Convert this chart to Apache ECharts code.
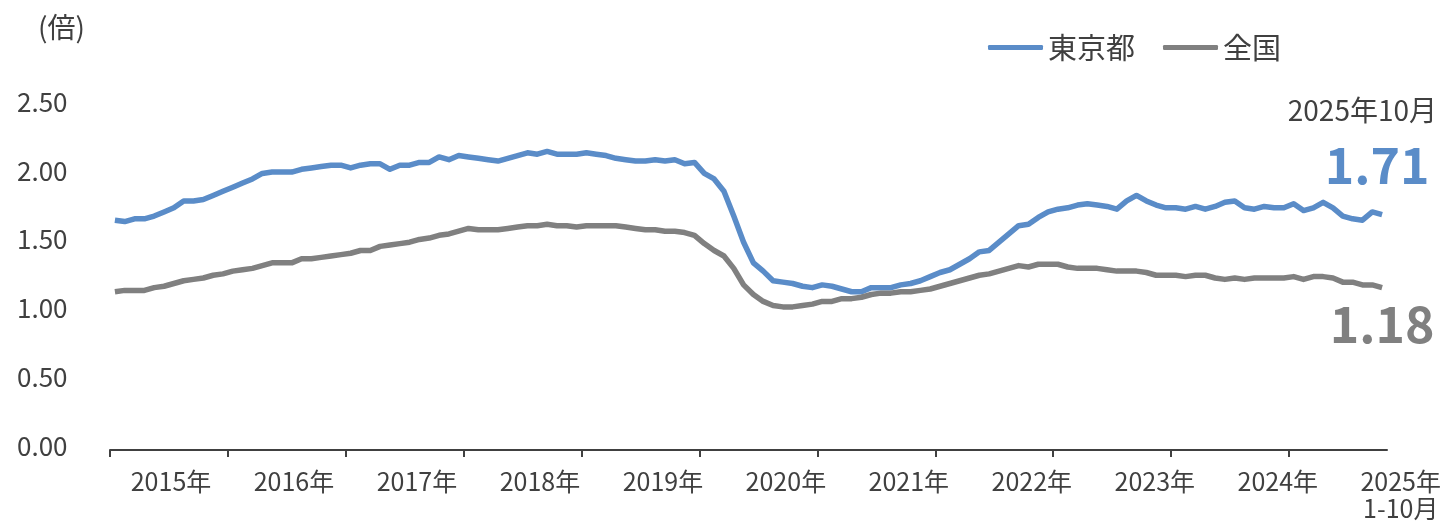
<!DOCTYPE html>
<html><head><meta charset="utf-8">
<script src="https://cdn.jsdelivr.net/npm/echarts@6/dist/echarts.min.js"></script>
<style>html,body{margin:0;padding:0;background:#fff}#c{width:1444px;height:522px}</style>
</head><body><div id="c"></div>
<script>
// Monthly categories Jan 2015 – Oct 2025
const years = [2015,2016,2017,2018,2019,2020,2021,2022,2023,2024,2025];
const months = [];
years.forEach(y => { const n = y === 2025 ? 10 : 12; for (let m = 1; m <= n; m++) months.push(y + '-' + m); });

const yearLabels = ['2015年','2016年','2017年','2018年','2019年','2020年','2021年','2022年','2023年','2024年','2025年\n1-10月'];
const fullYears = ['2015','2016','2017','2018','2019','2020','2021','2022','2023','2024'];
const yTicks = [0, 0.5, 1.0, 1.5, 2.0, 2.5];

const tokyo = [
1.67,1.66,1.68,1.68,1.70,1.73,1.76,1.81,1.81,1.82,1.85,1.88,
1.91,1.94,1.97,2.01,2.02,2.02,2.02,2.04,2.05,2.06,2.07,2.07,
2.05,2.07,2.08,2.08,2.04,2.07,2.07,2.09,2.09,2.13,2.11,2.14,
2.13,2.12,2.11,2.10,2.12,2.14,2.16,2.15,2.17,2.15,2.15,2.15,
2.16,2.15,2.14,2.12,2.11,2.10,2.10,2.11,2.10,2.11,2.08,2.09,
2.01,1.97,1.88,1.70,1.51,1.36,1.30,1.23,1.22,1.21,1.19,1.18,
1.20,1.19,1.17,1.15,1.15,1.18,1.18,1.18,1.20,1.21,1.23,1.26,
1.29,1.31,1.35,1.39,1.44,1.45,1.51,1.57,1.63,1.64,1.69,1.73,
1.75,1.76,1.78,1.79,1.78,1.77,1.75,1.81,1.85,1.81,1.78,1.76,
1.76,1.75,1.77,1.75,1.77,1.80,1.81,1.76,1.75,1.77,1.76,1.76,
1.79,1.74,1.76,1.80,1.76,1.70,1.68,1.67,1.73,1.71
];
const national = [
1.15,1.16,1.16,1.16,1.18,1.19,1.21,1.23,1.24,1.25,1.27,1.28,
1.30,1.31,1.32,1.34,1.36,1.36,1.36,1.39,1.39,1.40,1.41,1.42,
1.43,1.45,1.45,1.48,1.49,1.50,1.51,1.53,1.54,1.56,1.57,1.59,
1.61,1.60,1.60,1.60,1.61,1.62,1.63,1.63,1.64,1.63,1.63,1.62,
1.63,1.63,1.63,1.63,1.62,1.61,1.60,1.60,1.59,1.59,1.58,1.56,
1.50,1.45,1.41,1.32,1.20,1.13,1.08,1.05,1.04,1.04,1.05,1.06,
1.08,1.08,1.10,1.10,1.11,1.13,1.14,1.14,1.15,1.15,1.16,1.17,
1.19,1.21,1.23,1.25,1.27,1.28,1.30,1.32,1.34,1.33,1.35,1.35,
1.35,1.33,1.32,1.32,1.32,1.31,1.30,1.30,1.30,1.29,1.27,1.27,
1.27,1.26,1.27,1.27,1.25,1.24,1.25,1.24,1.25,1.25,1.25,1.25,
1.26,1.24,1.26,1.26,1.25,1.22,1.22,1.20,1.20,1.18
];
const seriesNames = ['東京都', '全国'];
const latestLabel = '2025年10月';
const unitLabel = '(倍)';

const BLUE = '#5a8cc8', GRAY = '#808080', TXT = '#404040';
const FONT = '"Noto Sans CJK JP", "Noto Sans", sans-serif';

const chart = echarts.init(document.getElementById('c'), null, {renderer: 'canvas'});
const last = months.length - 1;

chart.setOption({
  animation: false,
  textStyle: {fontFamily: FONT},
  grid: [
    {left: 110, right: 57, top: 106, bottom: 72},
    {left: 171, right: 39, top: 106, bottom: 72},
    {left: 110, width: 1179, top: 106, bottom: 72}
  ],
  legend: {
    left: 983, top: 28, itemWidth: 55, itemHeight: 5, itemGap: 28,
    data: seriesNames.map(n => ({name: n, icon: 'roundRect'})),
    textStyle: {fontSize: 29, color: TXT, fontFamily: FONT}
  },
  xAxis: [
    {
      type: 'category', gridIndex: 0, data: months, boundaryGap: true,
      axisLine: {lineStyle: {color: TXT, width: 2}},
      axisTick: {show: false},
      axisLabel: {show: false}
    },
    {
      type: 'category', gridIndex: 1, data: yearLabels, boundaryGap: false,
      axisLine: {show: false}, axisTick: {show: false},
      axisLabel: {show: true, interval: 0, margin: 22, fontSize: 25, lineHeight: 27, color: TXT, fontFamily: FONT}
    },
    {
      type: 'category', gridIndex: 2, data: fullYears, boundaryGap: true,
      axisLine: {show: false},
      axisTick: {show: true, length: 7, lineStyle: {color: TXT, width: 2}},
      axisLabel: {show: false}
    }
  ],
  yAxis: [
    {
      type: 'value', gridIndex: 0, min: yTicks[0], max: yTicks[yTicks.length - 1], interval: 0.5,
      axisLine: {show: false}, axisTick: {show: false}, splitLine: {show: false},
      axisLabel: {margin: 93, align: 'left', verticalAlign: 'bottom', lineHeight: 8, fontSize: 26, color: TXT, fontFamily: FONT, formatter: v => v.toFixed(2)}
    },
    {type: 'value', gridIndex: 1, min: 0, max: 1, show: false},
    {type: 'value', gridIndex: 2, min: 0, max: 1, show: false}
  ],
  graphic: [
    {type: 'text', left: 38, top: 13, style: {text: unitLabel, fontSize: 28, fill: TXT, fontFamily: FONT}},
    {type: 'text', right: 7, top: 96, style: {text: latestLabel, fontSize: 28, fill: TXT, fontFamily: FONT}}
  ],
  series: [
    {
      name: seriesNames[0], type: 'line', data: tokyo, xAxisIndex: 0, yAxisIndex: 0,
      showSymbol: false, symbol: 'none', lineStyle: {color: BLUE, width: 5.5, join: 'round'}, itemStyle: {color: BLUE},
      markPoint: {
        symbol: 'circle', symbolSize: 0,
        data: [{coord: [last, tokyo[last]], value: tokyo[last]}],
        label: {show: true, formatter: p => p.value.toFixed(2), fontSize: 50, fontWeight: 'bold', color: BLUE, offset: [-5, -50], fontFamily: FONT}
      }
    },
    {
      name: seriesNames[1], type: 'line', data: national, xAxisIndex: 0, yAxisIndex: 0,
      showSymbol: false, symbol: 'none', lineStyle: {color: GRAY, width: 5.5, join: 'round'}, itemStyle: {color: GRAY},
      markPoint: {
        symbol: 'circle', symbolSize: 0,
        data: [{coord: [last, national[last]], value: national[last]}],
        label: {show: true, formatter: p => p.value.toFixed(2), fontSize: 50, fontWeight: 'bold', color: GRAY, offset: [0, 36], fontFamily: FONT}
      }
    }
  ]
});
</script></body></html>
